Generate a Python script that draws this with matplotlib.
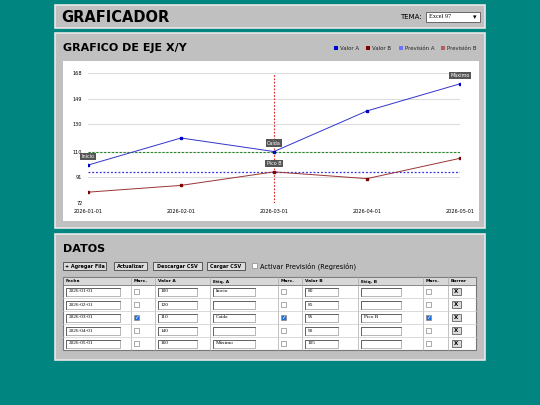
import matplotlib.pyplot as plt
from matplotlib.patches import Rectangle

# Data
fechas = ['2026-01-01', '2026-02-01', '2026-03-01', '2026-04-01', '2026-05-01']
valor_a = [100, 120, 110, 140, 160]
valor_b = [80, 85, 95, 90, 105]
etiq_a = ['Inicio', '', 'Caída', '', 'Máximo']
etiq_b = ['', '', 'Pico B', '', '']
marc_fecha = [False, False, True, False, False]
marc_a = [False, False, True, False, False]
marc_b = [False, False, True, False, False]
y_ticks = [72, 91, 110, 130, 149, 168]
linea_verde = 110
linea_azul = 95

W, H = 540, 405
fig = plt.figure(figsize=(5.4, 4.05), dpi=100)
fig.patch.set_facecolor('#008580')
bg = fig.add_axes([0, 0, 1, 1])
bg.set_xlim(0, W)
bg.set_ylim(H, 0)
bg.axis('off')

def panel(x0, y0, x1, y1, fc='#c0c0c0'):
    bg.add_patch(Rectangle((x0, y0), x1 - x0, y1 - y0, fc=fc, ec='#e8e8e8', lw=1.2))

# Header
panel(55, 5, 485, 28)
bg.text(61, 17, 'GRAFICADOR', fontsize=10.5, weight='bold', va='center')
bg.text(400, 17, 'TEMA:', fontsize=5, va='center')
bg.add_patch(Rectangle((426, 12), 54, 10, fc='white', ec='#555', lw=0.6))
bg.text(429, 17, 'Excel 97', fontsize=4.5, va='center', family='Liberation Serif')
bg.text(476, 17, '▾', fontsize=5, va='center', ha='right')

# Chart panel
panel(55, 33, 485, 228)
bg.text(63, 48, 'GRAFICO DE EJE X/Y', fontsize=8, weight='bold', va='center')
leg = [('Valor A', '#0000cc'), ('Valor B', '#800000'),
       ('Previsión A', '#7070ff'), ('Previsión B', '#b06060')]
lx = [334, 366, 399, 441]
for (lab, c), x in zip(leg, lx):
    bg.add_patch(Rectangle((x, 46), 4, 4, fc=c, ec='none'))
    bg.text(x + 6, 48.3, lab, fontsize=3.9, va='center', color='#222')
bg.add_patch(Rectangle((63, 61), 416, 160, fc='white', ec='none'))

ax = fig.add_axes([88 / W, 1 - 203 / H, 372 / W, 130 / H])
xs = list(range(len(fechas)))
ax.set_xlim(0, len(fechas) - 1)
ax.set_ylim(72, 168)
ax.set_yticks(y_ticks)
ax.set_xticks(xs)
ax.set_xticklabels(fechas)
ax.tick_params(labelsize=3.6, length=0, pad=4)
ax.grid(axis='y', color='#dddddd', lw=0.8)
for s in ax.spines.values():
    s.set_visible(False)
ax.set_facecolor('white')
ax.axhline(linea_verde, color='#228822', ls=(0, (2, 1.5)), lw=0.8)
ax.axhline(linea_azul, color='#3333dd', ls=(0, (1.5, 1.5)), lw=0.9)
ax.axvline(2, color='#dd2222', ls=(0, (1.5, 1.5)), lw=0.8)
ax.plot(xs, valor_a, color='#3333cc', lw=0.7, marker='s', ms=1.6, mfc='#0000cc', mec='#0000cc')
ax.plot(xs, valor_b, color='#9a3333', lw=0.7, marker='s', ms=1.6, mfc='#800000', mec='#800000')
box = dict(boxstyle='square,pad=0.25', fc='#555555', ec='none')
for x, v, t in zip(xs, valor_a, etiq_a):
    if t:
        ax.annotate(t, (x, v), xytext=(0, 5), textcoords='offset points', ha='center',
                    fontsize=3.5, color='white', bbox=box)
for x, v, t in zip(xs, valor_b, etiq_b):
    if t:
        ax.annotate(t, (x, v), xytext=(0, 5), textcoords='offset points', ha='center',
                    fontsize=3.5, color='white', bbox=box)

# Data panel
panel(55, 234, 485, 360)
bg.text(63, 249, 'DATOS', fontsize=8, weight='bold', va='center')
for lab, x0, x1 in [('+ Agregar Fila', 63, 106), ('Actualizar', 114, 147),
                    ('Descargar CSV', 153, 202), ('Cargar CSV', 207, 245)]:
    bg.add_patch(Rectangle((x0, 262), x1 - x0, 8, fc='#dcdcdc', ec='#444', lw=0.6))
    bg.text((x0 + x1) / 2, 266.3, lab, fontsize=3.5, weight='bold', ha='center', va='center')
bg.add_patch(Rectangle((252, 263), 5, 5, fc='white', ec='#888', lw=0.5))
bg.text(260, 266, 'Activar Previsión (Regresión)', fontsize=4.8, va='center')

cols = [63, 131, 155, 210, 278, 302, 358, 423, 448, 476]
heads = ['Fecha', 'Marc.', 'Valor A', 'Etiq. A', 'Marc.', 'Valor B', 'Etiq. B', 'Marc.', 'Borrar']
bg.add_patch(Rectangle((63, 277), 413, 73, fc='white', ec='#777', lw=0.8))
bg.add_patch(Rectangle((63, 277), 413, 8, fc='#d8d8d8', ec='#777', lw=0.6))
for c in cols[1:-1]:
    bg.plot([c, c], [277, 350], color='#aaa', lw=0.5)
for i, h in enumerate(heads):
    bg.text(cols[i] + 3, 281.5, h, fontsize=3.2, weight='bold', va='center')

def field(x0, x1, y, t):
    bg.add_patch(Rectangle((x0, y - 4), x1 - x0, 8, fc='white', ec='#999', lw=0.5))
    bg.plot([x0, x0, x1], [y + 4, y - 4, y - 4], color='#555', lw=0.6)
    bg.text(x0 + 3, y, t, fontsize=3.8, va='center', family='Liberation Serif')

def check(x, y, on):
    bg.add_patch(Rectangle((x - 2.5, y - 2.5), 5, 5, fc='#1f6fd6' if on else 'white',
                           ec='#888', lw=0.5))
    if on:
        bg.text(x, y + 0.2, '✓', fontsize=4, color='white', ha='center', va='center')

for r in range(len(fechas)):
    y = 291.5 + 13 * r
    if r:
        bg.plot([63, 476], [y - 6.5, y - 6.5], color='#ccc', lw=0.5)
    field(66, 120, y, fechas[r])
    check(136, y, marc_fecha[r])
    field(158, 197, y, str(valor_a[r]))
    field(213, 255, y, etiq_a[r])
    check(283, y, marc_a[r])
    field(305, 338, y, str(valor_b[r]))
    field(361, 401, y, etiq_b[r])
    check(428, y, marc_b[r])
    bg.add_patch(Rectangle((452, y - 3.5), 9, 7, fc='#dcdcdc', ec='#444', lw=0.5))
    bg.text(456.5, y, 'X', fontsize=4, weight='bold', ha='center', va='center')

fig.savefig('out.png', dpi=100, facecolor=fig.get_facecolor())
